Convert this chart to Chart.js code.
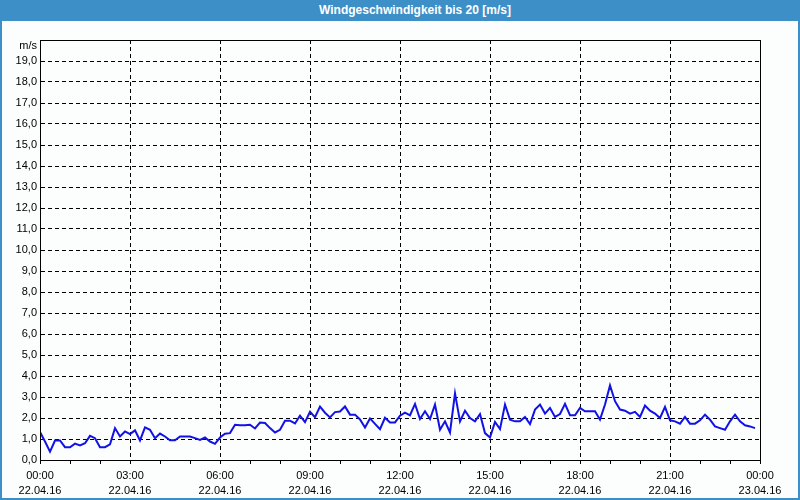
<!DOCTYPE html>
<html>
<head>
<meta charset="utf-8">
<script src="https://cdn.jsdelivr.net/npm/chart.js"></script>
<style>
  html, body { margin: 0; padding: 0; }
  #win { position: relative; width: 800px; height: 500px; background: #3d8fc7; }
  #title {
    position: absolute; left: 0; top: 0; width: 770px; height: 21px; padding-left: 30px;
    color: #fff; font: bold 12px "Liberation Sans", Arial, sans-serif;
    line-height: 21px; text-align: center;
  }
  #body { position: absolute; left: 2px; top: 21px; width: 796px; height: 477px; background: #fbfefc; }
</style>
</head>
<body>
<div id="win">
  <div id="title">Windgeschwindigkeit bis 20 [m/s]</div>
  <div id="body"><canvas id="windChart"></canvas></div>
</div>
<script>
// wind speed in m/s, one value every 10 minutes from 22.04.16 00:00
var windSpeed = [
  1.33, 0.88, 0.40, 0.93, 0.93, 0.61, 0.61, 0.78, 0.69, 0.80, 1.15, 1.04,
  0.61, 0.61, 0.75, 1.52, 1.12, 1.36, 1.23, 1.41, 0.93, 1.55, 1.44, 1.04,
  1.26, 1.12, 0.94, 0.94, 1.12, 1.12, 1.12, 1.04, 0.96, 1.07, 0.88, 0.77,
  1.07, 1.25, 1.28, 1.68, 1.65, 1.65, 1.68, 1.50, 1.78, 1.76, 1.52, 1.31,
  1.44, 1.87, 1.87, 1.74, 2.11, 1.80, 2.30, 2.04, 2.54, 2.25, 2.03, 2.28,
  2.31, 2.55, 2.16, 2.16, 1.93, 1.55, 1.98, 1.72, 1.47, 2.01, 1.79, 1.79,
  2.11, 2.26, 2.13, 2.67, 1.95, 2.32, 1.95, 2.64, 1.44, 1.84, 1.31, 3.17,
  1.84, 2.35, 2.00, 1.84, 2.19, 1.28, 1.07, 1.81, 1.47, 2.64, 1.92, 1.84,
  1.84, 2.05, 1.71, 2.40, 2.64, 2.21, 2.48, 2.05, 2.19, 2.67, 2.13, 2.13,
  2.48, 2.32, 2.32, 2.32, 1.92, 2.64, 3.55, 2.80, 2.40, 2.35, 2.21, 2.29,
  2.05, 2.59, 2.35, 2.21, 2.00, 2.53, 1.89, 1.84, 1.73, 2.05, 1.73, 1.73,
  1.89, 2.16, 1.92, 1.60, 1.52, 1.44, 1.84, 2.16, 1.84, 1.65, 1.60, 1.52
];
var stepMinutes = 10;

// x axis labels every 3 hours
var tickTimes = ["00:00", "03:00", "06:00", "09:00", "12:00", "15:00", "18:00", "21:00", "00:00"];
var tickDates = ["22.04.16", "22.04.16", "22.04.16", "22.04.16", "22.04.16", "22.04.16", "22.04.16", "22.04.16", "23.04.16"];
var yUnit = "m/s";

var points = [];
for (var i = 0; i < windSpeed.length; i++) {
  points.push({ x: i * stepMinutes, y: windSpeed[i] });
}

var fontSmall = { family: "Liberation Sans", size: 11, lineHeight: 15 / 11 };

// frame round the plot + unit label in the top left corner
var framePlugin = {
  id: "frame",
  afterDraw: function (chart) {
    var ctx = chart.ctx;
    var a = chart.chartArea;
    ctx.save();
    ctx.strokeStyle = "#000";
    ctx.lineWidth = 1;
    ctx.strokeRect(a.left + 0.5, a.top + 0.5, a.right - a.left, a.bottom - a.top);
    ctx.fillStyle = "#000";
    ctx.font = '11px "Liberation Sans"';
    ctx.textAlign = "right";
    ctx.textBaseline = "middle";
    ctx.fillText(yUnit, a.left - 3, a.top + 6);
    ctx.restore();
  }
};

var ctx = document.getElementById("windChart").getContext("2d");
var windChart = new Chart(ctx, {
  type: "line",
  data: {
    datasets: [{
      label: "Wind",
      data: points,
      borderColor: "#1212e6",
      borderWidth: 2,
      pointRadius: 0,
      tension: 0,
      fill: false
    }]
  },
  options: {
    responsive: true,
    maintainAspectRatio: false,
    animation: false,
    layout: { padding: { top: 19, right: 38, left: 0, bottom: 0 } },
    plugins: {
      legend: { display: false },
      title: { display: false },
      tooltip: { enabled: false }
    },
    scales: {
      x: {
        type: "linear",
        min: 0,
        max: 1440,
        afterFit: function (scale) { scale.height = 38; },
        ticks: {
          stepSize: 60,
          autoSkip: false,
          maxRotation: 0,
          padding: 4,
          color: "#000",
          font: fontSmall,
          callback: function (value) {
            if (value % 180 !== 0) return "";
            var k = value / 180;
            return [tickTimes[k], tickDates[k]];
          }
        },
        grid: {
          color: function (c) {
            return c.tick && c.tick.value % 180 === 0 ? "#000" : "rgba(0,0,0,0)";
          },
          tickColor: "#000",
          tickLength: 4
        },
        border: { color: "#000", dash: [4, 3] }
      },
      y: {
        min: 0,
        max: 20,
        afterFit: function (scale) { scale.width = 38; },
        ticks: {
          stepSize: 1,
          padding: 3,
          color: "#000",
          font: fontSmall,
          callback: function (value) {
            if (value === 20) return "";
            return value.toFixed(1).replace(".", ",");
          }
        },
        grid: { color: "#000", drawTicks: false },
        border: { color: "#000", dash: [4, 3] }
      }
    }
  },
  plugins: [framePlugin]
});
</script>
</body>
</html>
